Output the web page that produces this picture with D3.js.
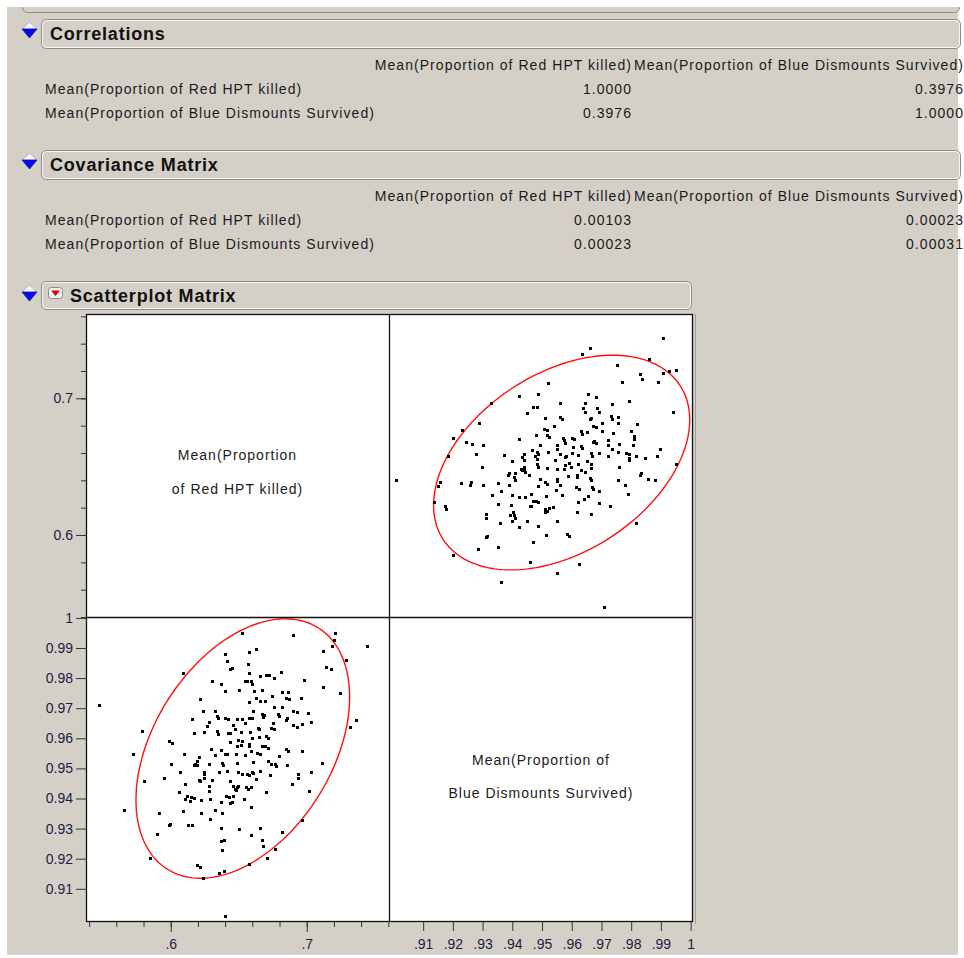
<!DOCTYPE html>
<html><head><meta charset="utf-8">
<script src="https://cdn.jsdelivr.net/npm/d3@7"></script>
<style>
body{margin:0;background:#fff;}
svg{display:block;font-family:"Liberation Sans",Arial,sans-serif;}
</style>
</head><body>
<svg id="c" width="964" height="958"></svg>
<script>
// ---------- data ----------
const varNames = ["Mean(Proportion of Red HPT killed)", "Mean(Proportion of Blue Dismounts Survived)"];
const corrValues = [[1.0, 0.3976], [0.3976, 1.0]];
const corrLabels = [["1.0000", "0.3976"], ["0.3976", "1.0000"]];
const covValues = [[0.00103, 0.00023], [0.00023, 0.00031]];
const covLabels = [["0.00103", "0.00023"], ["0.00023", "0.00031"]];
const diagLabelsRed = ["Mean(Proportion", "of Red HPT killed)"];
const diagLabelsBlue = ["Mean(Proportion of", "Blue Dismounts Survived)"];
const meanRed = 0.653;
const meanBlue = 0.9566;
const chi2_95 = 5.991;

const redKilled = [
0.6522,0.6897,0.7208,0.7201,0.7188,0.7441,0.7118,0.6578,0.6627,0.6399,
0.7289,0.6412,0.6566,0.6453,0.6436,0.7140,0.7179,0.6088,0.6578,0.6699,
0.6725,0.6657,0.6811,0.6762,0.6978,0.6301,0.6546,0.6563,0.6590,0.6600,
0.6368,0.7120,0.6399,0.6500,0.6610,0.6669,0.6821,0.6865,0.7243,0.6743,
0.6850,0.6872,0.6956,0.6627,0.6576,0.6657,0.6696,0.6213,0.5473,0.6762,
0.6821,0.6901,0.6931,0.7010,0.6235,0.6324,0.6603,0.6674,0.6688,0.6679,
0.6789,0.6799,0.6338,0.6348,0.6399,0.6419,0.6157,0.6490,0.6522,0.6578,
0.6600,0.6853,0.6848,0.7365,0.6284,0.6544,0.6752,0.6762,0.6897,0.6931,
0.6963,0.7032,0.6458,0.6267,0.7321,0.6640,0.6649,0.6475,0.6738,0.5791,
0.6169,0.6245,0.6338,0.6348,0.6424,0.6438,0.6517,0.6585,0.6703,0.6713,
0.6600,0.6647,0.6495,0.6524,0.6434,0.6671,0.6696,0.6578,0.6574,0.5990,
0.6010,0.6485,0.6515,0.5723,0.6100,0.6296,0.6326,0.6368,0.6397,0.6412,
0.6482,0.6546,0.6590,0.6632,0.6657,0.6713,0.6846,0.6860,0.6965,0.6796,
0.6208,0.6196,0.6176,0.6169,0.6191,0.6002,0.6282,0.6375,0.6387,0.6488,
0.6607,0.6718,0.6735,0.6767,0.6774,0.6853,0.7110,0.6068,0.6210,0.6215,
0.6243,0.6247,0.6247,0.6301,0.6357,0.6412,0.6497,0.6522,0.6559,0.6578,
0.6596,0.6607,0.6625,0.6657,0.6732,0.6934,0.6934,0.7029,0.5949,0.5804,
0.6103,0.6279,0.6436,0.6460,0.6473,0.6485,0.6497,0.6480,0.6551,0.6571,
0.6593,0.6890,0.6059,0.6279,0.6404,0.6426,0.6456,0.6122,0.6149,0.6105,
0.6169,0.6144,0.6221,0.6291,0.6368,0.6436,0.6453,0.6541,0.6701,0.7019,
0.6588,0.5659,0.5912,0.6088,0.6225,0.6324,0.6377,0.6289,0.5995,0.5988,
0.6125,0.6157,0.6368,0.6500,0.6657,0.6821,0.6963,0.5901,0.6590,0.6368,
0.6390,0.6669,0.6679,0.6379,0.6767,0.5850,0.6710,0.6191,0.6213,0.6578,
0.6238,0.6357,0.6390,0.6401
];
const blueSurvived = [
0.9951,0.9942,0.9951,0.9927,0.9907,0.9907,0.9891,0.9886,0.9896,0.9881,
0.9860,0.9856,0.9847,0.9834,0.9830,0.9836,0.9831,0.9816,0.9816,0.9811,
0.9811,0.9806,0.9820,0.9800,0.9794,0.9790,0.9791,0.9791,0.9791,0.9782,
0.9780,0.9770,0.9756,0.9760,0.9756,0.9760,0.9754,0.9754,0.9751,0.9740,
0.9734,0.9731,0.9734,0.9734,0.9721,0.9723,0.9723,0.9730,0.9710,0.9703,
0.9703,0.9690,0.9686,0.9683,0.9690,0.9690,0.9690,0.9680,0.9676,0.9671,
0.9680,0.9673,0.9673,0.9669,0.9666,0.9663,0.9664,0.9664,0.9664,0.9669,
0.9666,0.9666,0.9660,0.9660,0.9654,0.9650,0.9650,0.9631,0.9644,0.9639,
0.9646,0.9654,0.9644,0.9640,0.9636,0.9634,0.9630,0.9631,0.9634,0.9624,
0.9619,0.9621,0.9623,0.9613,0.9618,0.9616,0.9620,0.9620,0.9609,0.9602,
0.9600,0.9604,0.9596,0.9591,0.9587,0.9576,0.9573,0.9582,0.9576,0.9590,
0.9583,0.9573,0.9577,0.9549,0.9549,0.9566,0.9546,0.9560,0.9549,0.9549,
0.9549,0.9544,0.9559,0.9552,0.9549,0.9569,0.9566,0.9559,0.9559,0.9540,
0.9538,0.9524,0.9516,0.9510,0.9510,0.9514,0.9514,0.9518,0.9510,0.9517,
0.9521,0.9523,0.9516,0.9516,0.9508,0.9510,0.9519,0.9488,0.9462,0.9458,
0.9488,0.9480,0.9469,0.9463,0.9488,0.9493,0.9488,0.9482,0.9482,0.9477,
0.9488,0.9484,0.9466,0.9493,0.9478,0.9482,0.9469,0.9488,0.9469,0.9458,
0.9448,0.9443,0.9457,0.9443,0.9432,0.9438,0.9440,0.9429,0.9438,0.9432,
0.9438,0.9449,0.9423,0.9424,0.9409,0.9404,0.9409,0.9409,0.9404,0.9398,
0.9402,0.9393,0.9394,0.9398,0.9388,0.9384,0.9389,0.9398,0.9423,0.9424,
0.9373,0.9363,0.9353,0.9358,0.9353,0.9363,0.9352,0.9333,0.9316,0.9312,
0.9313,0.9313,0.9302,0.9298,0.9303,0.9288,0.9329,0.9283,0.9278,0.9258,
0.9262,0.9263,0.9243,0.9228,0.9232,0.9202,0.9202,0.9178,0.9172,0.9182,
0.9137,0.9151,0.9158,0.9008
];
const redMinorTicks = [0.54,0.56,0.58,0.6,0.62,0.64,0.66,0.68,0.7,0.72,0.74,0.76];
const redMajorTicks = [0.6, 0.7];
const blueTicks = [0.91,0.92,0.93,0.94,0.95,0.96,0.97,0.98,0.99,1];

// ---------- layout ----------
const svg = d3.select("#c");
const BG = "#d4d0c8", TXT = "#1a1a1a", AXT = "#1c1c44";
const L = 86, M = 389, R = 693, T = 314, MY = 617, B = 922;

svg.append("rect").attr("x",7).attr("y",7).attr("width",951).attr("height",948).attr("fill",BG);

function bar(x,y,w,h){
  svg.append("rect").attr("x",x+0.5).attr("y",y+0.5).attr("width",w).attr("height",h)
    .attr("rx",5).attr("fill",BG).attr("stroke","#8a8a8a");
  svg.append("rect").attr("x",x+1.5).attr("y",y+1.5).attr("width",w-2).attr("height",h-2)
    .attr("rx",4).attr("fill","none").attr("stroke","#ffffff").attr("stroke-opacity",0.8);
}
function blueIcon(x,y){
  svg.append("path").attr("d",`M${x},${y+8}L${x+7.5},${y+1}L${x+15},${y+8}Z`)
    .attr("fill","#f4f4ff").attr("stroke","#9090b0").attr("stroke-width",0.6);
  svg.append("path").attr("d",`M${x},${y+8}L${x+15},${y+8}L${x+7.5},${y+17}Z`)
    .attr("fill","#0a0af0").attr("stroke","#000080").attr("stroke-width",0.6);
}
function title(x,y,t){
  svg.append("text").attr("x",x).attr("y",y).text(t)
    .attr("font-size",18).attr("font-weight","bold").attr("letter-spacing",0.8).attr("fill","#111");
}
function tableText(x,y,t,anchor){
  svg.append("text").attr("x",x).attr("y",y).text(t).attr("text-anchor",anchor||"start")
    .attr("font-size",14).attr("letter-spacing",1.05).attr("fill",TXT);
}

// top partial box
svg.append("rect").attr("x",22.5).attr("y",-20).attr("width",937).attr("height",32.5)
  .attr("rx",5).attr("fill",BG).attr("stroke","#8a8a8a");
svg.append("rect").attr("x",0).attr("y",0).attr("width",964).attr("height",7).attr("fill","#fff");

function matrixSection(y0, name, labels){
  bar(41, y0, 919, 29);
  blueIcon(22, y0+2);
  title(50, y0+21, name);
  tableText(632, y0+51, varNames[0], "end");
  tableText(964, y0+51, varNames[1], "end");
  varNames.forEach((v,i)=>{
    const yy = y0 + 75 + i*24;
    tableText(45, yy, v);
    tableText(632, yy, labels[i][0], "end");
    tableText(964, yy, labels[i][1], "end");
  });
}
matrixSection(19, "Correlations", corrLabels);
matrixSection(150, "Covariance Matrix", covLabels);

// scatterplot matrix header
bar(41, 281, 650, 28);
blueIcon(22, 284);
svg.append("rect").attr("x",48.5).attr("y",287.5).attr("width",14).attr("height",11).attr("rx",3)
  .attr("fill","#f2f2f2").attr("stroke","#8a8a8a");
svg.append("path").attr("d","M51,290.5L60,290.5L55.5,296Z").attr("fill","#e00000");
title(70, 302, "Scatterplot Matrix");

// ---------- scales ----------
const xRed = d3.scaleLinear().domain([0.5377, 0.7605]).range([L, M]);
const xBlue = d3.scaleLinear().domain([0.8985, 1.0008]).range([M, R]);
const yRed = d3.scaleLinear().domain([0.540, 0.7617]).range([MY, T]);
const yBlue = d3.scaleLinear().domain([0.8993, 1.0003]).range([B-1, MY]);

// plot area
svg.append("rect").attr("x",L).attr("y",T).attr("width",R-L).attr("height",B-T).attr("fill","#fff");
svg.append("line").attr("x1",R+2.5).attr("x2",R+2.5).attr("y1",T).attr("y2",B+2).attr("stroke","#a0a0a0");

const defs = svg.append("defs");
defs.append("clipPath").attr("id","clipBL").append("rect").attr("x",L).attr("y",MY+1).attr("width",M-L).attr("height",B-MY);
defs.append("clipPath").attr("id","clipTR").append("rect").attr("x",M+1).attr("y",T).attr("width",R-M).attr("height",MY-T);

// diagonal labels
diagLabelsRed.forEach((t,i)=>svg.append("text").attr("x",(L+M)/2).attr("y",460+i*34).text(t)
  .attr("text-anchor","middle").attr("font-size",14).attr("letter-spacing",1).attr("fill",TXT));
diagLabelsBlue.forEach((t,i)=>svg.append("text").attr("x",(M+R)/2).attr("y",765+i*33).text(t)
  .attr("text-anchor","middle").attr("font-size",14).attr("letter-spacing",1).attr("fill",TXT));

// density ellipse (95%)
const sR = Math.sqrt(covValues[0][0]), sB = Math.sqrt(covValues[1][1]), rho = corrValues[0][1];
const k = Math.sqrt(chi2_95);
const ell = d3.range(0, 361, 2).map(a=>{
  const t = a*Math.PI/180;
  return [meanRed + k*sR*Math.cos(t), meanBlue + k*sB*(rho*Math.cos(t) + Math.sqrt(1-rho*rho)*Math.sin(t))];
});
svg.append("path").attr("clip-path","url(#clipBL)")
  .attr("d", d3.line().x(d=>xRed(d[0])).y(d=>yBlue(d[1])).curve(d3.curveLinearClosed)(ell))
  .attr("fill","none").attr("stroke","#ff1010").attr("stroke-width",1.4);
svg.append("path").attr("clip-path","url(#clipTR)")
  .attr("d", d3.line().x(d=>xBlue(d[1])).y(d=>yRed(d[0])).curve(d3.curveLinearClosed)(ell))
  .attr("fill","none").attr("stroke","#ff1010").attr("stroke-width",1.4);

// points
const pts = redKilled.map((r,i)=>({r, b: blueSurvived[i]}));
svg.append("g").attr("clip-path","url(#clipBL)").selectAll("rect").data(pts).join("rect")
  .attr("x",d=>Math.round(xRed(d.r))-1).attr("y",d=>Math.round(yBlue(d.b))-1)
  .attr("width",3).attr("height",3).attr("fill","#000");
svg.append("g").attr("clip-path","url(#clipTR)").selectAll("rect").data(pts).join("rect")
  .attr("x",d=>Math.round(xBlue(d.b))-1).attr("y",d=>Math.round(yRed(d.r))-1)
  .attr("width",3).attr("height",3).attr("fill","#000");

// frame & dividers
svg.append("rect").attr("x",L+0.5).attr("y",T+0.5).attr("width",R-L-1).attr("height",B-T-1)
  .attr("fill","none").attr("stroke","#111").attr("stroke-width",1.3);
svg.append("line").attr("x1",M+0.5).attr("x2",M+0.5).attr("y1",T).attr("y2",B).attr("stroke","#111").attr("stroke-width",1.3);
svg.append("line").attr("x1",L).attr("x2",R).attr("y1",MY+0.5).attr("y2",MY+0.5).attr("stroke","#111").attr("stroke-width",1.3);

// ---------- axes ----------
function styleAxis(g){
  g.select(".domain").remove();
  g.attr("font-family",null).attr("font-size",14).attr("color","#333");
  g.selectAll("text").attr("fill",AXT);
}
const fmtBlueY = d => d===1 ? "1" : d3.format(".2f")(d);
const fmtBlueX = d => d===1 ? "1" : d3.format(".2f")(d).replace(/^0/,"");

svg.append("g").attr("transform",`translate(${L},0)`)
  .call(d3.axisLeft(yRed).tickValues(redMinorTicks).tickSize(5).tickFormat(""))
  .call(styleAxis);
svg.append("g").attr("transform",`translate(${L},0)`)
  .call(d3.axisLeft(yRed).tickValues(redMajorTicks).tickSize(10).tickPadding(3).tickFormat(d3.format(".1f")))
  .call(styleAxis);
svg.append("g").attr("transform",`translate(${L},0)`)
  .call(d3.axisLeft(yBlue).tickValues(blueTicks).tickSize(10).tickPadding(3).tickFormat(fmtBlueY))
  .call(styleAxis);
svg.append("g").attr("transform",`translate(0,${B})`)
  .call(d3.axisBottom(xRed).tickValues(redMinorTicks).tickSize(5).tickFormat(""))
  .call(styleAxis);
svg.append("g").attr("transform",`translate(0,${B})`)
  .call(d3.axisBottom(xRed).tickValues(redMajorTicks).tickSize(10).tickPadding(7)
    .tickFormat(d => d3.format(".1f")(d).replace(/^0/,"")))
  .call(styleAxis);
svg.append("g").attr("transform",`translate(0,${B})`)
  .call(d3.axisBottom(xBlue).tickValues(blueTicks).tickSize(9).tickPadding(8).tickFormat(fmtBlueX))
  .call(styleAxis);
</script>
</body></html>
